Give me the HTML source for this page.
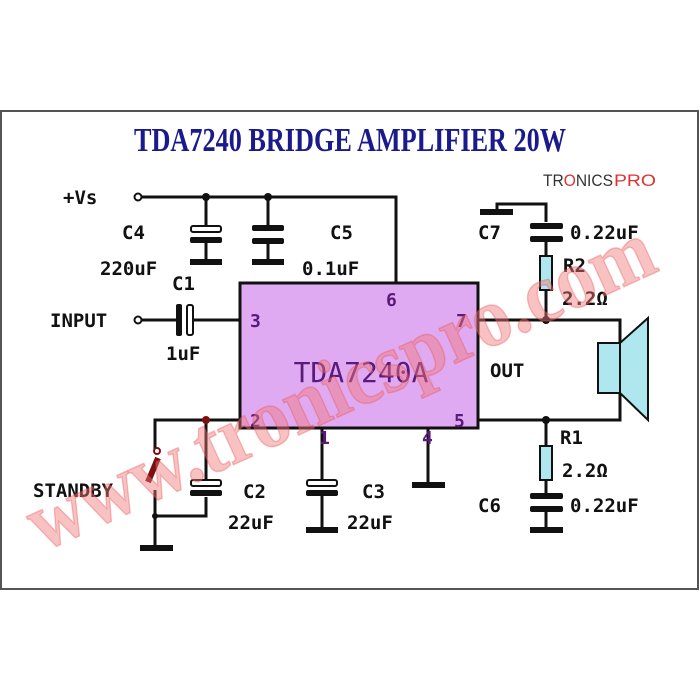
<!DOCTYPE html>
<html><head><meta charset="utf-8"><style>
html,body{margin:0;padding:0;background:#fff;}
svg{display:block;}
.m{font-family:"DejaVu Sans Mono","Liberation Mono",monospace;font-weight:bold;font-size:19px;fill:#111;}
.p{font-family:"DejaVu Sans Mono","Liberation Mono",monospace;font-weight:bold;font-size:18px;fill:#5a1a7a;}
</style></head><body>
<svg width="700" height="700" viewBox="0 0 700 700" xmlns="http://www.w3.org/2000/svg">
<rect x="1" y="111" width="697" height="478" fill="#fff" stroke="#555" stroke-width="2"/>
<text x="350" y="151" text-anchor="middle" font-family="Liberation Serif,serif" font-weight="bold" font-size="34" fill="#1a1a8c" textLength="432" lengthAdjust="spacingAndGlyphs">TDA7240 BRIDGE AMPLIFIER 20W</text>
<text x="543" y="186" font-family="Liberation Sans,sans-serif" font-size="17" fill="#333" textLength="70" lengthAdjust="spacingAndGlyphs">TR<tspan fill="#d33">O</tspan>NICS</text>
<text x="614" y="186" font-family="Liberation Sans,sans-serif" font-size="17" fill="#d33" textLength="42" lengthAdjust="spacingAndGlyphs">PRO</text>
<g stroke="#111" stroke-width="3" fill="none">
<path d="M138 197 H396 V283"/>
<path d="M206 197 V228 M206 242 V262 M268 197 V228 M268 242 V262"/>
<path d="M322 428 V481 M322 495 V530 M428 428 V485"/>
<path d="M138 320 H178 M192 320 H240"/>
<path d="M478 320 H620 V343 M478 420 H620 V393"/>
<path d="M546 320 V290 M546 256 V240 M546 222 V204 H497 V212"/>
<path d="M546 420 V446 M546 480 V496 M546 510 V530"/>
<path d="M240 420 H155 V452 M155 490 V548 M155 516 H206 V497 M206 420 V481"/>
<path d="M158 458 L148 482" stroke="#7a1010" stroke-width="6"/>
</g>
<circle cx="138" cy="197" r="3.5" fill="#fff" stroke="#111" stroke-width="2"/>
<circle cx="138" cy="320" r="3.5" fill="#fff" stroke="#111" stroke-width="2"/>
<circle cx="157" cy="451" r="3" fill="#fff" stroke="#7a1010" stroke-width="2"/>
<g fill="#111">
<circle cx="206" cy="197" r="4"/><circle cx="268" cy="197" r="4"/>
<circle cx="546" cy="320" r="4"/><circle cx="546" cy="420" r="4"/>
<circle cx="206" cy="420" r="4" fill="#7a1010"/><circle cx="155" cy="516" r="3"/>
<rect x="190" y="237" width="32" height="6" rx="2"/>
<rect x="252" y="225" width="32" height="6" rx="2"/><rect x="252" y="238" width="32" height="6" rx="2"/>
<rect x="190" y="259" width="32" height="6"/><rect x="252" y="259" width="32" height="6"/>
<rect x="176" y="304" width="6" height="32" rx="2"/>
<rect x="190" y="490" width="32" height="6" rx="2"/>
<rect x="306" y="490" width="32" height="6" rx="2"/>
<rect x="306" y="527" width="32" height="6"/>
<rect x="412" y="482" width="33" height="6"/>
<rect x="140" y="545" width="33" height="6"/>
<rect x="480" y="209" width="33" height="6"/>
<rect x="530" y="223" width="33" height="6" rx="2"/><rect x="530" y="236" width="33" height="6" rx="2"/>
<rect x="530" y="493" width="33" height="6" rx="2"/><rect x="530" y="506" width="33" height="6" rx="2"/>
<rect x="530" y="527" width="33" height="6"/>
</g>
<g fill="#fff" stroke="#111" stroke-width="2">
<rect x="191" y="226" width="30" height="6" rx="2"/>
<rect x="187" y="305" width="6" height="30" rx="2"/>
<rect x="191" y="480" width="30" height="6" rx="2"/>
<rect x="307" y="480" width="30" height="6" rx="2"/>
</g>
<g fill="#aee8ee" stroke="#111" stroke-width="2">
<rect x="540" y="256" width="12" height="34"/>
<rect x="540" y="446" width="12" height="34"/>
<rect x="598" y="343" width="22" height="50"/>
<path d="M620 343 L648 318 V420 L620 393 Z"/>
</g>
<rect x="240" y="283" width="238" height="145" fill="#e0aaf2" stroke="#111" stroke-width="3"/>
<text x="361" y="382" text-anchor="middle" font-family="DejaVu Sans Mono,monospace" font-size="28" fill="#5a1a7a">TDA7240A</text>
<text class="p" x="386" y="306">6</text><text class="p" x="250" y="327">3</text>
<text class="p" x="456" y="327">7</text><text class="p" x="250" y="427">2</text>
<text class="p" x="319" y="444">1</text><text class="p" x="422" y="444">4</text>
<text class="p" x="454" y="427">5</text>
<g class="m">
<text x="63" y="204">+Vs</text>
<text x="122" y="239">C4</text><text x="100" y="275">220uF</text>
<text x="330" y="239">C5</text><text x="302" y="275">0.1uF</text>
<text x="172" y="290">C1</text><text x="50" y="327">INPUT</text><text x="166" y="360">1uF</text>
<text x="478" y="239">C7</text><text x="570" y="239">0.22uF</text>
<text x="563" y="272">R2</text><text x="562" y="305">2.2Ω</text>
<text x="490" y="377">OUT</text>
<text x="560" y="444">R1</text><text x="562" y="477">2.2Ω</text>
<text x="478" y="512">C6</text><text x="570" y="512">0.22uF</text>
<text x="33" y="497">STANDBY</text>
<text x="243" y="498">C2</text><text x="228" y="529">22uF</text>
<text x="362" y="498">C3</text><text x="347" y="529">22uF</text>
</g>
<text x="0" y="0" transform="translate(42,552) rotate(-24.5)" font-family="Liberation Serif,serif" font-weight="bold" font-size="84" fill="#f07878" fill-opacity="0.45" stroke="#e85050" stroke-opacity="0.35" stroke-width="1.5" textLength="680" lengthAdjust="spacingAndGlyphs">www.tronicspro.com</text>
</svg>
</body></html>
